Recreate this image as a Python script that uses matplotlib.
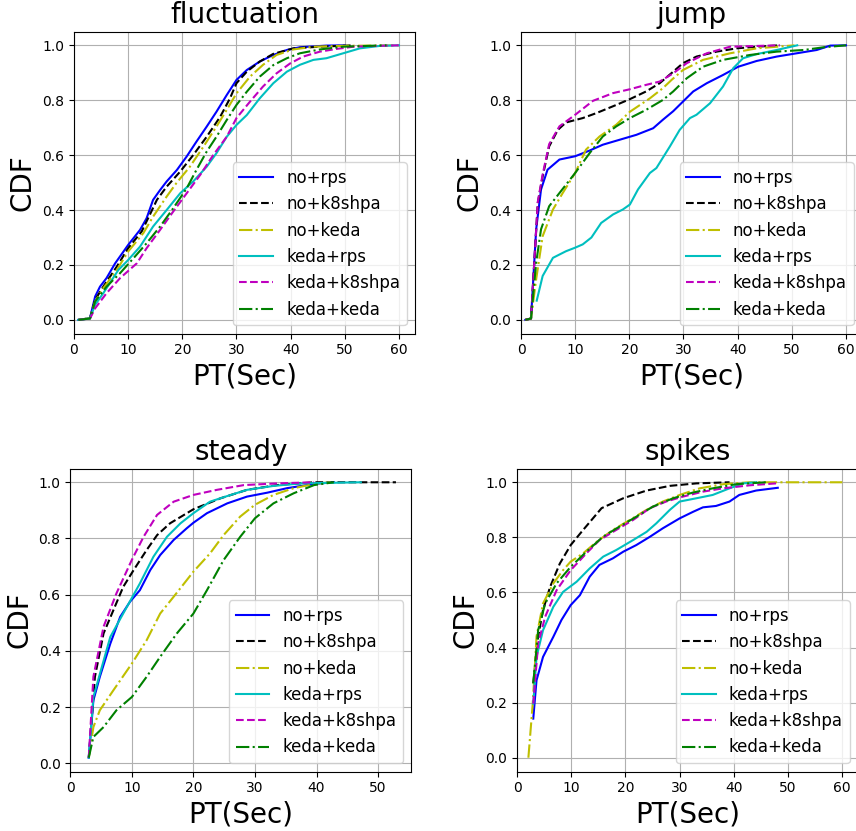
import matplotlib
matplotlib.use("Agg")
import matplotlib.pyplot as plt

labels = ["no+rps", "no+k8shpa", "no+keda", "keda+rps", "keda+k8shpa", "keda+keda"]
styles = ["b-", "k--", "y-.", "c-", "m--", "g-."]

# ---- fluctuation ----
fluct_no_rps_x = [0.8, 2.95, 3.9, 4.8, 6.0, 7.6, 10.0, 12.2, 13.4, 14.6, 15.9, 17.1, 19.0, 20.8, 22.6, 24.5, 26.3, 28.2, 30.0, 31.9, 34.3, 36.8, 39.3, 41.7, 46.6, 50.0]
fluct_no_rps_y = [0, 0.006, 0.085, 0.121, 0.152, 0.206, 0.273, 0.328, 0.37, 0.437, 0.473, 0.504, 0.546, 0.595, 0.649, 0.704, 0.758, 0.819, 0.874, 0.91, 0.941, 0.965, 0.983, 0.993, 0.999, 1.0]
fluct_no_k8s_x = [0.8, 2.95, 3.9, 5.4, 7.9, 10, 12.5, 14, 15.3, 17.1, 19.6, 22.0, 24.5, 27, 28.8, 30, 31.9, 34.3, 36.8, 40.5, 45.4, 51.6]
fluct_no_k8s_y = [0, 0.006, 0.073, 0.121, 0.194, 0.261, 0.322, 0.383, 0.437, 0.485, 0.54, 0.6, 0.667, 0.74, 0.807, 0.862, 0.904, 0.941, 0.969, 0.989, 0.995, 1.0]
fluct_no_keda_x = [0.8, 2.95, 3.9, 5.4, 7.9, 10, 12.8, 14.6, 17.1, 18.9, 21.4, 23.9, 26.3, 28.2, 30, 32.5, 34.9, 37.4, 40.5, 44.2, 49.7, 60]
fluct_no_keda_y = [0, 0.006, 0.067, 0.115, 0.182, 0.249, 0.316, 0.376, 0.449, 0.498, 0.558, 0.631, 0.704, 0.765, 0.825, 0.886, 0.929, 0.965, 0.985, 0.995, 0.998, 1.0]
fluct_keda_rps_x = [0.8, 2.95, 3.9, 5.4, 8.2, 10, 12.2, 14.6, 17.1, 19.6, 22, 24.5, 26.3, 28.2, 30, 31.9, 34.3, 36.8, 39.3, 41.7, 44.2, 46.6, 49.7, 52.8, 56.5, 60]
fluct_keda_rps_y = [0, 0.005, 0.055, 0.097, 0.182, 0.218, 0.267, 0.34, 0.4, 0.461, 0.504, 0.558, 0.607, 0.667, 0.71, 0.746, 0.807, 0.862, 0.904, 0.929, 0.947, 0.953, 0.971, 0.989, 0.998, 1.0]
fluct_keda_k8s_x = [0.8, 2.95, 3.9, 6, 8.5, 11.6, 13.4, 15.9, 18.3, 20.8, 23.3, 25.7, 28.2, 30, 32.5, 34.9, 37.4, 39.9, 42.3, 45.4, 48.5, 51.6, 55.9, 60]
fluct_keda_k8s_y = [0, 0.005, 0.042, 0.097, 0.152, 0.206, 0.261, 0.328, 0.394, 0.461, 0.528, 0.6, 0.667, 0.735, 0.795, 0.85, 0.898, 0.934, 0.959, 0.977, 0.987, 0.995, 0.998, 1.0]
fluct_keda_keda_x = [0.8, 2.95, 3.9, 6, 8.5, 11, 13.4, 15.9, 18.3, 20.8, 22.6, 24.5, 26.3, 28.2, 30, 31.9, 34.3, 36.8, 39.3, 41.7, 45.4, 49.7, 55.9, 57.7]
fluct_keda_keda_y = [0, 0.005, 0.067, 0.121, 0.17, 0.225, 0.279, 0.34, 0.406, 0.479, 0.546, 0.613, 0.667, 0.728, 0.783, 0.831, 0.886, 0.928, 0.953, 0.971, 0.985, 0.995, 0.999, 1.0]

# ---- jump ----
jump_no_rps_x = [0.8, 1.85, 2.8, 3.7, 4.9, 7.1, 10, 12.7, 15.1, 18.2, 21.3, 24.4, 26.2, 28.1, 29.9, 31.8, 34.3, 37.3, 40.1, 43.5, 47.2, 50.9, 54.6, 57.1, 60]
jump_no_rps_y = [0, 0.005, 0.33, 0.475, 0.547, 0.584, 0.596, 0.617, 0.638, 0.656, 0.674, 0.698, 0.729, 0.76, 0.795, 0.832, 0.862, 0.892, 0.922, 0.943, 0.959, 0.971, 0.983, 0.999, 1.0]
jump_no_k8s_x = [0.8, 1.85, 3.1, 4.0, 5.2, 6.8, 8.3, 11.4, 13.9, 17.6, 20.1, 23.1, 25.6, 28.1, 29.9, 32.4, 36.1, 39.8, 43.5, 47.8]
jump_no_k8s_y = [0, 0.005, 0.426, 0.523, 0.632, 0.692, 0.719, 0.735, 0.753, 0.783, 0.804, 0.832, 0.862, 0.904, 0.935, 0.959, 0.977, 0.989, 0.995, 1.0]
jump_no_keda_x = [0.8, 1.85, 2.8, 4.0, 5.9, 7.7, 10, 12, 14.5, 17.6, 20.1, 23.8, 26.2, 27.8, 29.9, 33.6, 38.6, 43.5, 50.5]
jump_no_keda_y = [0, 0.005, 0.148, 0.305, 0.402, 0.462, 0.535, 0.62, 0.668, 0.711, 0.758, 0.807, 0.844, 0.874, 0.91, 0.947, 0.971, 0.989, 1.0]
jump_keda_rps_x = [2.9, 4.0, 5.9, 8.3, 10, 11.4, 13, 14.8, 17, 18.8, 20.1, 21.6, 23.8, 25, 27.5, 29.3, 31.2, 32.4, 34.9, 37.3, 39.2, 41, 43.5, 47.2, 51]
jump_keda_rps_y = [0.07, 0.16, 0.226, 0.25, 0.263, 0.275, 0.3, 0.353, 0.384, 0.402, 0.42, 0.475, 0.535, 0.553, 0.632, 0.692, 0.735, 0.747, 0.789, 0.85, 0.917, 0.953, 0.968, 0.983, 1.0]
jump_keda_k8s_x = [0.8, 1.85, 3.1, 4.0, 5.2, 7.1, 10, 13.3, 17, 20.1, 23.1, 25.6, 28.1, 30.6, 34.3, 38.6, 47.8]
jump_keda_k8s_y = [0, 0.005, 0.43, 0.53, 0.64, 0.705, 0.747, 0.798, 0.826, 0.84, 0.856, 0.868, 0.898, 0.935, 0.971, 0.995, 1.0]
jump_keda_keda_x = [0.8, 1.85, 2.8, 3.7, 5.2, 7.1, 10, 12.7, 15.1, 17.6, 20.1, 23.1, 26.2, 28.1, 30.6, 33.6, 37.3, 42.3, 47.2, 52.2, 55.9, 60]
jump_keda_keda_y = [0, 0.005, 0.208, 0.33, 0.414, 0.462, 0.535, 0.608, 0.668, 0.705, 0.735, 0.765, 0.801, 0.832, 0.88, 0.922, 0.947, 0.965, 0.977, 0.983, 0.993, 1.0]

# ---- steady ----
steady_no_rps_x = [3.0, 3.75, 4.8, 6.5, 8.1, 9.7, 11.3, 13, 14.6, 16.8, 18.9, 20, 22.2, 25.5, 28.7, 32, 35.2, 39.6, 42.8]
steady_no_rps_y = [0.02, 0.224, 0.308, 0.426, 0.521, 0.575, 0.616, 0.688, 0.741, 0.795, 0.836, 0.856, 0.89, 0.925, 0.949, 0.963, 0.979, 0.994, 1.0]
steady_no_k8s_x = [3.0, 4.0, 5.4, 7, 8.6, 10.3, 12.4, 14.1, 16.2, 20, 24.4, 28.7, 33.6, 39.6, 52.9]
steady_no_k8s_y = [0.02, 0.308, 0.462, 0.545, 0.628, 0.688, 0.759, 0.812, 0.854, 0.904, 0.943, 0.973, 0.99, 1.0, 1.0]
steady_no_keda_x = [3.0, 3.75, 4.8, 7, 10, 12.4, 14.6, 16.8, 20, 22.7, 24.9, 27.6, 30, 33, 36.3, 39.6, 42.3]
steady_no_keda_y = [0.02, 0.129, 0.189, 0.26, 0.355, 0.438, 0.533, 0.593, 0.682, 0.747, 0.812, 0.878, 0.92, 0.955, 0.979, 0.994, 1.0]
steady_keda_rps_x = [3.0, 3.75, 6.5, 9.2, 11.3, 13.5, 15.7, 17.9, 20, 22.7, 25.5, 28.7, 33, 37.4, 47.2]
steady_keda_rps_y = [0.02, 0.236, 0.45, 0.557, 0.64, 0.735, 0.806, 0.854, 0.89, 0.931, 0.951, 0.973, 0.987, 0.996, 1.0]
steady_keda_k8s_x = [3.0, 3.75, 5.4, 7.5, 10, 11.9, 14.1, 16.8, 20, 23.8, 28.2, 33.6, 39.6]
steady_keda_k8s_y = [0.02, 0.308, 0.486, 0.605, 0.724, 0.806, 0.884, 0.931, 0.955, 0.973, 0.99, 0.996, 1.0]
steady_keda_keda_x = [3.0, 3.75, 5.4, 7.5, 10, 12.4, 14.6, 17.3, 20, 22.2, 24.9, 27.6, 30, 33, 36.3, 39.6, 42.8]
steady_keda_keda_y = [0.02, 0.094, 0.129, 0.189, 0.236, 0.308, 0.379, 0.462, 0.533, 0.616, 0.723, 0.806, 0.872, 0.925, 0.961, 0.99, 1.0]

# ---- spikes ----
spikes_no_rps_x = [3.0, 3.6, 4.8, 6.7, 8.2, 9.9, 11.6, 13.4, 15.2, 17.7, 19.6, 22, 24.5, 26.9, 30, 32.5, 34.3, 36.7, 39.2, 41, 44.1, 48.1]
spikes_no_rps_y = [0.142, 0.281, 0.366, 0.439, 0.5, 0.554, 0.59, 0.657, 0.7, 0.724, 0.748, 0.772, 0.802, 0.833, 0.869, 0.893, 0.909, 0.914, 0.93, 0.954, 0.97, 0.98]
spikes_no_k8s_x = [3.0, 3.9, 4.8, 6.1, 7.9, 9.9, 12.2, 15.6, 19.6, 23.9, 28.2, 33.1, 39.2]
spikes_no_k8s_y = [0.27, 0.44, 0.536, 0.62, 0.705, 0.772, 0.827, 0.906, 0.942, 0.97, 0.987, 0.996, 1.0]
spikes_no_keda_x = [2.1, 2.9, 3.6, 4.8, 6.7, 8.5, 9.9, 12.2, 14.7, 17.7, 20.8, 23.9, 26.9, 30, 33.7, 38, 42.9, 60]
spikes_no_keda_y = [0, 0.196, 0.44, 0.56, 0.633, 0.681, 0.712, 0.742, 0.784, 0.827, 0.863, 0.9, 0.93, 0.954, 0.978, 0.993, 1.0, 1.0]
spikes_keda_rps_x = [3.0, 3.6, 4.8, 6.7, 8.5, 11, 13.4, 15.9, 18.3, 21.4, 23.9, 25.7, 28.2, 30, 33.1, 36.1, 39.2, 41.7, 44.1]
spikes_keda_rps_y = [0.196, 0.366, 0.463, 0.548, 0.602, 0.639, 0.687, 0.73, 0.754, 0.79, 0.82, 0.851, 0.9, 0.93, 0.942, 0.954, 0.978, 0.996, 1.0]
spikes_keda_k8s_x = [3.0, 3.9, 5.2, 7.3, 9.9, 12.8, 15.2, 18.3, 21.4, 24.5, 27.5, 30.6, 34.3, 38, 42.9, 47.8]
spikes_keda_k8s_y = [0.196, 0.415, 0.512, 0.608, 0.681, 0.742, 0.79, 0.827, 0.863, 0.906, 0.93, 0.948, 0.966, 0.978, 0.989, 0.996]
spikes_keda_keda_x = [3.0, 3.9, 5.2, 7.3, 9.9, 12.8, 15.9, 18.9, 22, 25.1, 28.8, 32.5, 36.1, 40.4, 45.9]
spikes_keda_keda_y = [0.27, 0.463, 0.56, 0.633, 0.693, 0.748, 0.803, 0.839, 0.875, 0.912, 0.942, 0.963, 0.978, 0.993, 1.0]

panels = [
    ("fluctuation", [(fluct_no_rps_x, fluct_no_rps_y), (fluct_no_k8s_x, fluct_no_k8s_y),
                     (fluct_no_keda_x, fluct_no_keda_y), (fluct_keda_rps_x, fluct_keda_rps_y),
                     (fluct_keda_k8s_x, fluct_keda_k8s_y), (fluct_keda_keda_x, fluct_keda_keda_y)]),
    ("jump", [(jump_no_rps_x, jump_no_rps_y), (jump_no_k8s_x, jump_no_k8s_y),
              (jump_no_keda_x, jump_no_keda_y), (jump_keda_rps_x, jump_keda_rps_y),
              (jump_keda_k8s_x, jump_keda_k8s_y), (jump_keda_keda_x, jump_keda_keda_y)]),
    ("steady", [(steady_no_rps_x, steady_no_rps_y), (steady_no_k8s_x, steady_no_k8s_y),
                (steady_no_keda_x, steady_no_keda_y), (steady_keda_rps_x, steady_keda_rps_y),
                (steady_keda_k8s_x, steady_keda_k8s_y), (steady_keda_keda_x, steady_keda_keda_y)]),
    ("spikes", [(spikes_no_rps_x, spikes_no_rps_y), (spikes_no_k8s_x, spikes_no_k8s_y),
                (spikes_no_keda_x, spikes_no_keda_y), (spikes_keda_rps_x, spikes_keda_rps_y),
                (spikes_keda_k8s_x, spikes_keda_k8s_y), (spikes_keda_keda_x, spikes_keda_keda_y)]),
]

W, H = 856, 831
fig = plt.figure(figsize=(W / 100, H / 100), dpi=100)
# axes boxes in pixels: left, top, width, height
boxes = [(74, 31.6, 341, 302), (521, 31.6, 341, 302),
         (70.3, 468.5, 341, 303), (517, 468.5, 341, 303)]

for (title, series), (l, t, w, h) in zip(panels, boxes):
    ax = fig.add_axes([l / W, 1 - (t + h) / H, w / W, h / H])
    for (xs, ys), st, lab in zip(series, styles, labels):
        ax.plot(xs, ys, st, label=lab, linewidth=1.5)
    ax.set_xlim(left=0)
    ax.grid(True)
    ax.set_title(title, fontsize=20)
    ax.set_xlabel("PT(Sec)", fontsize=20)
    ax.set_ylabel("CDF", fontsize=20)
    ax.tick_params(labelsize=10)
    ax.legend(loc="lower right", fontsize=12)

fig.savefig("out.png", dpi=100)
